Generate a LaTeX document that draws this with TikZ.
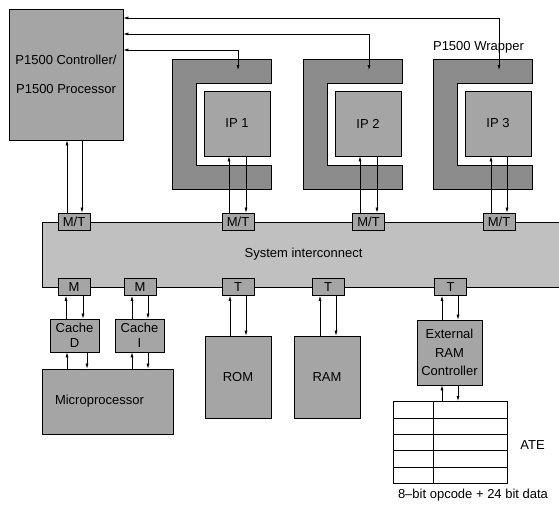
\documentclass[tikz,border=0pt]{standalone}
\usepackage{fontspec}
\setmainfont{Liberation Sans}
\usepackage{xcolor}
\usepackage{tikz}
\usetikzlibrary{matrix,arrows.meta}
\definecolor{boxgray}{HTML}{A5A5A5}
\definecolor{wrapgray}{HTML}{8C8C8C}
\definecolor{busgray}{HTML}{C0C0C0}

\begin{document}
\begin{tikzpicture}[x=1pt, y=-1pt, font=\fontsize{13}{15}\selectfont,
	blk/.style={draw, fill=boxgray, line width=0.8pt, inner sep=0pt},
	port/.style={blk, minimum width=32pt, minimum height=17pt},
	arr/.style={-{Latex[length=5pt,width=3pt]}, line width=0.6pt},
	arrboth/.style={{Latex[length=5pt,width=3pt]}-{Latex[length=5pt,width=3pt]}, line width=0.6pt}]
	\useasboundingbox (0,0) rectangle (559,506);

	% test controller
	\node[blk, minimum width=114pt, minimum height=131pt, align=center, font=\fontsize{13}{29}\selectfont] (ctrl) at (66,74.5) {P1500 Controller/\\P1500 Processor};

	% wrapped cores
	\foreach \i/\x in {1/172,2/303,3/433}{
		\draw[fill=wrapgray, line width=0.8pt] (\x,59) -- (\x+99,59) -- (\x+99,83) -- (\x+24,83) -- (\x+24,165) -- (\x+99,165) -- (\x+99,189) -- (\x,189) -- cycle;
		\node[blk, minimum width=66pt, minimum height=65pt] (ip\i) at (\x+65,123.5) {IP \i};
		\coordinate (wt\i) at (\x+66,70);
	}
	\node (wraplabel) at (478.5,47) {P1500 Wrapper};

	% bus and its ports
	\node[draw, fill=busgray, line width=0.8pt, minimum width=523pt, minimum height=65pt] (bus) at (303.5,254.5) {System interconnect};
	\foreach \n/\x in {mt0/74,mt1/238,mt2/368.5,mt3/499}
		\node[port] (\n) at (\x,221.5) {M/T};
	\foreach \n/\x/\t in {m1/74/M,m2/140/M,t1/238/T,t2/328/T,t3/450.5/T}
		\node[port] (\n) at (\x,287) {\t};

	% bottom blocks
	\node[blk, minimum width=49pt, minimum height=33pt, align=center] (cached) at (74.5,335.5) {Cache\\D};
	\node[blk, minimum width=49pt, minimum height=33pt, align=center] (cachei) at (139.5,335.5) {Cache\\I};
	\node[blk, minimum height=65pt, text width=105pt, inner xsep=13pt, align=left] (micro) at (107.5,401.5) {Microprocessor};
	\node[blk, minimum width=66pt, minimum height=82pt] (rom) at (238,377) {ROM};
	\node[blk, minimum width=66pt, minimum height=82pt] (ram) at (327,377) {RAM};
	\node[blk, minimum width=65pt, minimum height=65pt, align=center, font=\fontsize{13}{18.5}\selectfont] (erc) at (449.5,352.5) {External\\RAM\\Controller};

	% ATE memory
	\matrix (ate) [matrix of nodes, nodes in empty cells, anchor=north, inner sep=0pt,
		nodes={draw, fill=white, line width=0.8pt, minimum height=16.4pt},
		column 1/.style={nodes={minimum width=40pt}},
		column 2/.style={nodes={minimum width=74pt}},
		column sep=-0.8pt, row sep=-0.8pt] at (450,401) {
		& \\
		& \\
		& \\
		& \\
		& \\
	};
	\node (atelabel) at (532.5,445) {ATE};
	\node (atecaption) at (473,495) {8--bit opcode + 24 bit data};

	% up / down pairs
	\foreach \u/\l/\a/\b in {ctrl/mt0/67/82, ip1/mt1/229/246, ip2/mt2/360/377, ip3/mt3/491/507,
		m1/cached/66/83, m2/cachei/132/148, cached/micro/67/87, cachei/micro/132/148,
		t1/rom/230/246, t2/ram/320/336, t3/erc/442/458, erc/ate/442/458}{
		\draw[arr] (\a,0 |- \l.north) -- (\a,0 |- \u.south);
		\draw[arr] (\b,0 |- \u.south) -- (\b,0 |- \l.north);
	}

	% test access lines
	\foreach \i/\y in {1/50,2/34,3/18}
		\draw[arrboth] (ctrl.east |- 0,\y) -| (wt\i);
\end{tikzpicture}
\end{document}
